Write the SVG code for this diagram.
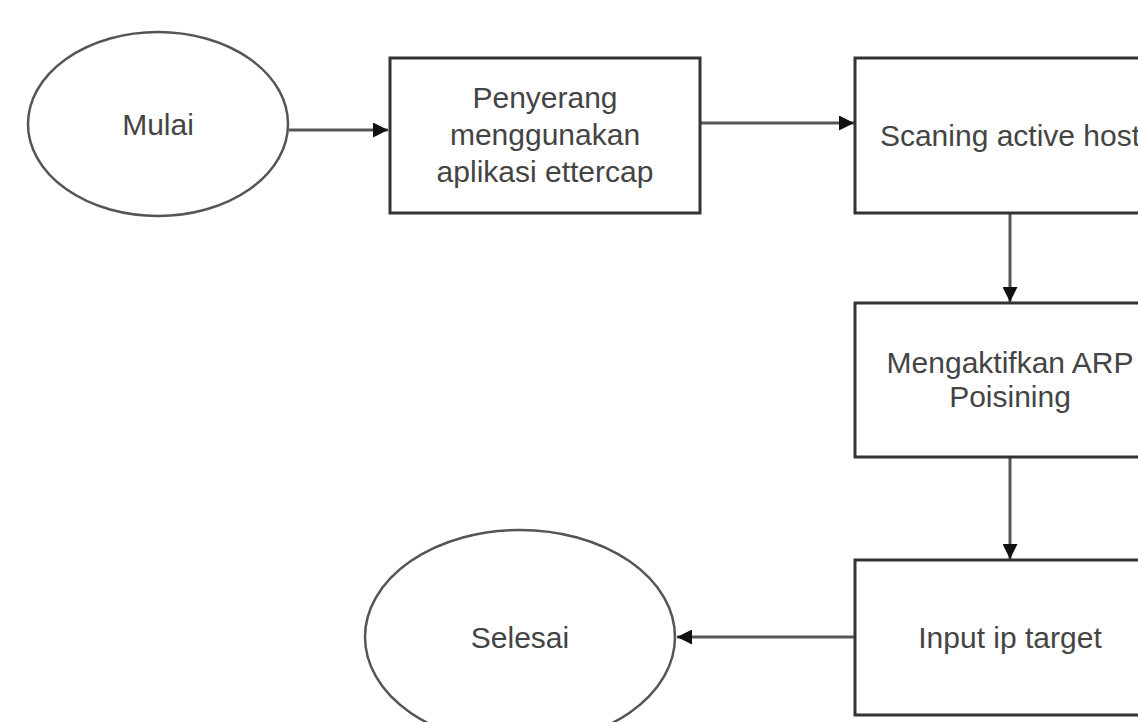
<svg xmlns="http://www.w3.org/2000/svg" width="1138" height="722" viewBox="0 0 1138 722">
<style>
.box{fill:#fff;stroke:#333;stroke-width:3}
.ell{fill:#fff;stroke:#555;stroke-width:2.5}
.t{font-family:"Liberation Sans",Arial,sans-serif;font-size:30px;fill:#444;text-anchor:middle}
.c{stroke:#555;stroke-width:3;fill:none}
</style>
<defs>
<marker id="ah" viewBox="0 0 10 10" refX="10" refY="5" markerWidth="5" markerHeight="5" markerUnits="strokeWidth" orient="auto">
<path d="M0,0 L10,5 L0,10 z" fill="#111"/>
</marker>
</defs>
<rect width="1138" height="722" fill="#fff"/>
<g id="connectors">
<line class="c" x1="289" y1="130" x2="388" y2="130" marker-end="url(#ah)"/>
<line class="c" x1="700" y1="123" x2="854" y2="123" marker-end="url(#ah)"/>
<line class="c" x1="1010" y1="214" x2="1010" y2="302" marker-end="url(#ah)"/>
<line class="c" x1="1010" y1="458" x2="1010" y2="559" marker-end="url(#ah)"/>
<line class="c" x1="855" y1="637" x2="677" y2="637" marker-end="url(#ah)"/>
</g>
<g id="mulai">
<ellipse class="ell" cx="158" cy="124" rx="130" ry="92"/>
<text class="t" x="158" y="135">Mulai</text>
</g>
<g id="penyerang">
<rect class="box" x="390" y="58" width="310" height="155"/>
<text class="t" x="545" y="108">Penyerang</text>
<text class="t" x="545" y="145">menggunakan</text>
<text class="t" x="545" y="182">aplikasi ettercap</text>
</g>
<g id="scaning">
<rect class="box" x="855" y="58" width="310" height="155"/>
<text class="t" x="1010" y="146">Scaning active host</text>
</g>
<g id="arp">
<rect class="box" x="855" y="303" width="310" height="154"/>
<text class="t" x="1010" y="373">Mengaktifkan ARP</text>
<text class="t" x="1010" y="407">Poisining</text>
</g>
<g id="input">
<rect class="box" x="855" y="560" width="310" height="155"/>
<text class="t" x="1010" y="648">Input ip target</text>
</g>
<g id="selesai">
<ellipse class="ell" cx="520" cy="637" rx="155" ry="107"/>
<text class="t" x="520" y="648">Selesai</text>
</g>
</svg>
